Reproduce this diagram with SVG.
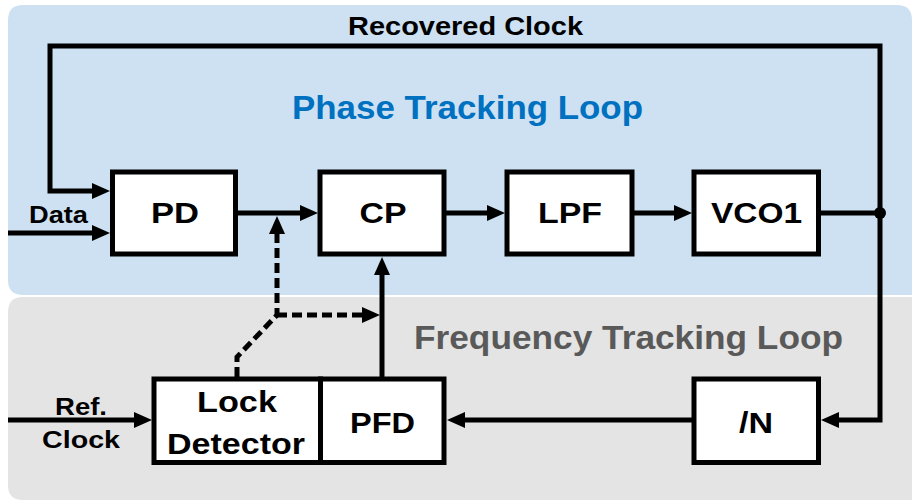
<svg xmlns="http://www.w3.org/2000/svg" width="912" height="501" viewBox="0 0 912 501">
<style>
text{font-family:"Liberation Sans",Arial,sans-serif;font-weight:bold;fill:#000;text-anchor:middle}
.box{fill:#fff;stroke:#000;stroke-width:5}
.w{fill:none;stroke:#000;stroke-width:5}
.d{fill:none;stroke:#000;stroke-width:5;stroke-dasharray:10 5}
.lbl{font-size:29px}
</style>
<defs>
<marker id="ah" markerUnits="userSpaceOnUse" markerWidth="18" markerHeight="16" refX="8" refY="8" orient="auto">
<path d="M0,0 L18,8 L0,16 z" fill="#000"/>
</marker>
</defs>
<g id="regions">
<path d="M8,20 Q8,5 23,5 L897,5 Q912,5 912,20 L912,295 L23,295 Q8,295 8,280 Z" fill="#CDE1F2"/>
<path d="M8,312 Q8,297 23,297 L912,297 L912,500 L23,500 Q8,500 8,485 Z" fill="#E4E4E4"/>
<text x="465.5" y="35" font-size="26" textLength="235" lengthAdjust="spacingAndGlyphs">Recovered Clock</text>
<text x="467.5" y="119" font-size="33" textLength="351" lengthAdjust="spacingAndGlyphs" style="fill:#0070C0">Phase Tracking Loop</text>
<text x="628.5" y="349" font-size="33" textLength="429" lengthAdjust="spacingAndGlyphs" style="fill:#595959">Frequency Tracking Loop</text>
<text x="58.5" y="223" font-size="24" textLength="59" lengthAdjust="spacingAndGlyphs">Data</text>
<text x="81" y="415" font-size="24" textLength="52" lengthAdjust="spacingAndGlyphs">Ref.</text>
<text x="81" y="448" font-size="24" textLength="78" lengthAdjust="spacingAndGlyphs">Clock</text>
</g>
<g id="connectors">
<path class="w" d="M880,213 L880,46 L50,46 L50,191 L100,191" marker-end="url(#ah)"/>
<path class="w" d="M8,233 L100,233" marker-end="url(#ah)"/>
<path class="w" d="M238,213 L308,213" marker-end="url(#ah)"/>
<path class="w" d="M446,213 L495,213" marker-end="url(#ah)"/>
<path class="w" d="M633,213 L682,213" marker-end="url(#ah)"/>
<path class="w" d="M820,213 L880,213"/>
<path class="w" d="M880,213 L880,420 L831,420" marker-end="url(#ah)"/>
<path class="w" d="M692,420 L457,420" marker-end="url(#ah)"/>
<path class="w" d="M382,377 L382,267" marker-end="url(#ah)"/>
<path class="w" d="M8,420 L142,420" marker-end="url(#ah)"/>
<path class="d" d="M237,377 L237,357 L277,315 L277,226" marker-end="url(#ah)"/>
<path class="d" d="M277,315 L370,315" marker-end="url(#ah)"/>
<circle cx="880" cy="213" r="6" fill="#000"/>
</g>
<g id="PD"><rect class="box" x="112.5" y="172" width="123" height="82"/><text class="lbl" x="175" y="223" textLength="48" lengthAdjust="spacingAndGlyphs">PD</text></g>
<g id="CP"><rect class="box" x="320" y="172" width="124" height="82"/><text class="lbl" x="383" y="223" textLength="47" lengthAdjust="spacingAndGlyphs">CP</text></g>
<g id="LPF"><rect class="box" x="507" y="172" width="125" height="82"/><text class="lbl" x="570" y="223" textLength="64" lengthAdjust="spacingAndGlyphs">LPF</text></g>
<g id="VCO1"><rect class="box" x="694" y="172" width="124.5" height="82"/><text class="lbl" x="756.5" y="223" textLength="91" lengthAdjust="spacingAndGlyphs">VCO1</text></g>
<g id="LockDetector"><rect class="box" x="154" y="379" width="166.5" height="83.5"/><text class="lbl" x="237" y="412" textLength="80" lengthAdjust="spacingAndGlyphs">Lock</text><text class="lbl" x="236" y="454" textLength="138" lengthAdjust="spacingAndGlyphs">Detector</text></g>
<g id="PFD"><rect class="box" x="320.5" y="379" width="123.5" height="83.5"/><text class="lbl" x="382.5" y="433" textLength="65" lengthAdjust="spacingAndGlyphs">PFD</text></g>
<g id="DivN"><rect class="box" x="694" y="379" width="124.5" height="83.5"/><text class="lbl" x="756" y="433" textLength="34" lengthAdjust="spacingAndGlyphs">/N</text></g>
</svg>
